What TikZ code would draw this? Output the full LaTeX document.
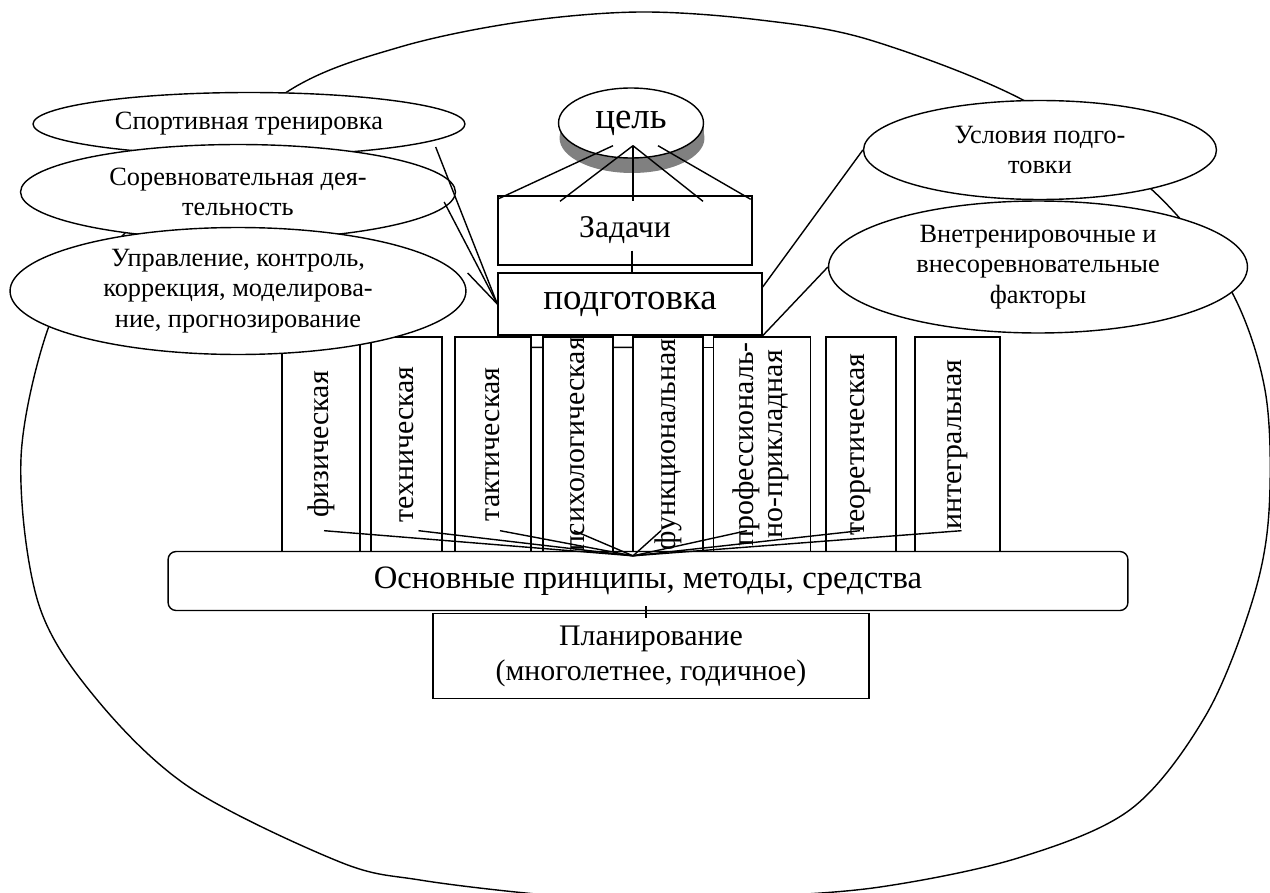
\documentclass[tikz,border=0pt]{standalone}
\usepackage{fontspec}
\setmainfont{Liberation Serif}
\usepackage{graphicx}
\usetikzlibrary{positioning, calc, shapes.geometric}

\begin{document}
\begin{tikzpicture}[x=0.02cm, y=-0.02cm, line width=0.8pt,
    oval/.style={draw, ellipse, fill=white, inner sep=0pt, align=center, font=\fontsize{15}{17.5}\selectfont},
    box/.style={draw, fill=white, inner sep=0pt, align=center},
    pillar/.style={draw, fill=white, inner sep=0pt, minimum height=4.3cm, font=\fontsize{17}{17}\selectfont}]
\useasboundingbox (0,0) rectangle (1270,892);
% Outer contour
\draw plot[smooth cycle, tension=0.55] coordinates {(400,47) (520,22) (640,12) (760,20) (870,40) (1023,100) (1150,188) (1228,285) (1265,390) (1269,511) (1252,602) (1206,715) (1131,809) (1018,858) (880,887) (753,897) (645,901) (536,894) (420,880) (340,862) (189,787) (94,696) (38,602) (21,458) (49,326) (90,270) (170,190) (290,90)};
% Goal with shadow
\coordinate (celc) at (631,123);
\fill[black!50] ($(celc)+(-71,0)$) rectangle ($(celc)+(73,15)$);
\fill[black!50] ($(celc)+(1,15)$) ellipse [x radius=1.45cm, y radius=0.7cm];
\node[oval, minimum width=2.9cm, minimum height=1.4cm, font=\fontsize{21}{23}\selectfont] (cel) at (celc) {цель};
% Tasks and preparation
\node[box, minimum width=5.08cm, minimum height=1.38cm, font=\fontsize{18}{20}\selectfont] (zadachi) at (625,230.5) {Задачи};
\node[box, minimum width=5.28cm, minimum height=1.24cm, font=\fontsize{21}{23}\selectfont] (podg) at (630,304) {подготовка};
% Kinds of preparation
\node[pillar, minimum width=1.56cm] (fiz) at (321,444.5) {\rotatebox{90}{физическая}};
\node[pillar, minimum width=1.42cm] (teh) at (406.5,444.5) {\rotatebox{90}{техническая}};
\node[pillar, minimum width=1.52cm] (tak) at (493,444.5) {\rotatebox{90}{тактическая}};
\node[pillar, minimum width=1.40cm] (psih) at (578,444.5) {\rotatebox{90}{психологическая}};
\node[pillar, minimum width=1.40cm] (funk) at (668,444.5) {\rotatebox{90}{функциональная}};
\node[pillar, minimum width=1.94cm] (prof) at (762,444.5) {\rotatebox{90}{\begin{tabular}{@{}c@{}}профессиональ-\\но-прикладная\end{tabular}}};
\node[pillar, minimum width=1.40cm] (teor) at (861,444.5) {\rotatebox{90}{теоретическая}};
\node[pillar, minimum width=1.70cm] (integ) at (957.5,444.5) {\rotatebox{90}{интегральная}};
\foreach \a/\b in {tak/psih, psih/funk, funk/prof}
    \draw ($(\a.north east)+(0,11)$) -- ($(\b.north west)+(0,11)$);
% Principles and planning
\node[box, rounded corners=0.16cm, minimum width=19.2cm, minimum height=1.18cm, font=\fontsize{18.6}{21}\selectfont] (osn) at (648,581) {Основные принципы, методы, средства};
\node[box, minimum width=8.72cm, minimum height=1.7cm, font=\fontsize{17}{20}\selectfont] (plan) at (651,656) {Планирование\\(многолетнее, годичное)};
% Side ovals
\node[oval, minimum width=8.64cm, minimum height=1.26cm] (sport) at (249,124) {Спортивная тренировка};
\node[oval, minimum width=8.7cm, minimum height=1.9cm] (sorev) at (238,192) {Соревновательная дея-\\тельность};
\node[oval, minimum width=9.12cm, minimum height=2.54cm] (upr) at (238,291) {Управление, контроль,\\коррекция, моделирова-\\ние, прогнозирование};
\node[oval, minimum width=7.06cm, minimum height=1.98cm] (usl) at (1040,150) {Условия подго-\\товки};
\node[oval, minimum width=8.38cm, minimum height=2.64cm] (vnetr) at (1038,267) {Внетренировочные и\\внесоревновательные\\факторы};
% Connectors
\draw ($(cel.south)+(-18,-13)$) -- ($(zadachi.north west)+(0,4)$);
\foreach \dx in {-65,8,78}
    \draw ($(cel.south)+(2,-13)$) -- ($(zadachi.north)+(\dx,6)$);
\draw ($(cel.south)+(27,-13)$) -- ($(zadachi.north east)+(-2,4)$);
\draw ($(zadachi.south)+(7,-15)$) -- ($(podg.north)+(2,0)$);
\draw ($(sport.east)+(-30,23)$) -- (podg.west);
\draw ($(sorev.east)+(-12,10)$) -- (podg.west);
\draw ($(upr.east)+(1,-18)$) -- (podg.west);
\draw (usl.west) -- ($(podg.east)+(0,-17)$);
\draw (vnetr.west) -- (podg.south east);
\coordinate (apex) at ($(osn.north)+(-15,5)$);
\foreach \c/\dx in {fiz/3, teh/12, tak/7, psih/-4, funk/-7, prof/-15, teor/-1, integ/4}
    \draw ($(\c.south)+(\dx,-22)$) -- (apex);
\draw ($(osn.south)+(-2,-5)$) -- ($(plan.north)+(-5,5)$);
\end{tikzpicture}
\end{document}
